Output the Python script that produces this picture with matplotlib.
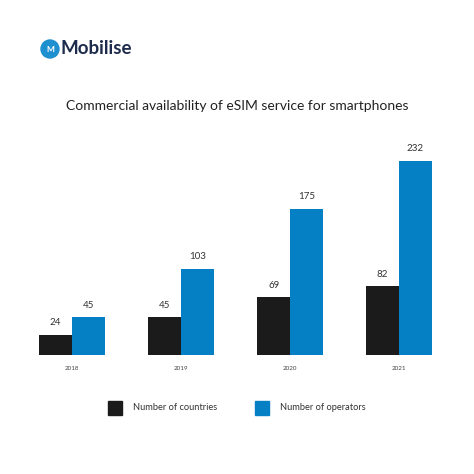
import numpy as np
import matplotlib.pyplot as plt
from matplotlib.patches import Circle, Rectangle

plt.rcParams['font.family'] = ['Lato', 'DejaVu Sans']

years = ['2018', '2019', '2020', '2021']
countries = [24, 45, 69, 82]
operators = [45, 103, 175, 232]

C_BLACK = '#1b1b1b'
C_BLUE = '#0580c4'

W, H = 474, 474
fig = plt.figure(figsize=(W / 100, H / 100), dpi=100)


def fx(px):
    return px / W


def fy(py):
    return 1 - py / H


# axes placed in pixel units
ax_l, ax_r, ax_top, ax_bot = 20, 452, 150, 355
ax = fig.add_axes([fx(ax_l), fy(ax_bot), fx(ax_r - ax_l), (ax_bot - ax_top) / H])
x = np.arange(len(years))
w = 0.30
ax.bar(x - w / 2, countries, w, color=C_BLACK)
ax.bar(x + w / 2, operators, w, color=C_BLUE)
ax.set_xlim((ax_l - 72) / 109, (ax_r - 72) / 109)
ax.set_ylim(0, (ax_bot - ax_top) / (194 / 232))
ax.axis('off')

for i in range(len(years)):
    ax.text(x[i] - w / 2, countries[i] + 9, str(countries[i]), ha='center', va='bottom',
            fontsize=7, color='#333333')
    ax.text(x[i] + w / 2, operators[i] + 9, str(operators[i]), ha='center', va='bottom',
            fontsize=7, color='#333333')
    ax.text(x[i], -16, years[i], ha='center', va='center', fontsize=4.5, color='#444444')

# title
fig.text(0.5, fy(106), 'Commercial availability of eSIM service for smartphones',
         ha='center', va='center', fontsize=10, color='#222222')

# legend
fig.patches.append(Rectangle((fx(108), fy(415)), fx(14), 14 / H, color=C_BLACK,
                             transform=fig.transFigure, figure=fig))
fig.text(fx(133), fy(408), 'Number of countries', ha='left', va='center',
         fontsize=6.7, color='#333333')
fig.patches.append(Rectangle((fx(255), fy(415)), fx(14), 14 / H, color=C_BLUE,
                             transform=fig.transFigure, figure=fig))
fig.text(fx(280), fy(408), 'Number of operators', ha='left', va='center',
         fontsize=6.7, color='#333333')

# logo
fig.patches.append(Circle((fx(50), fy(49)), 9 / W, color='#1e8fcf',
                          transform=fig.transFigure, figure=fig))
fig.text(fx(50), fy(49), 'M', ha='center', va='center', fontsize=6,
         fontweight='bold', color='white')
fig.text(fx(60), fy(49), 'Mobilise', ha='left', va='center', fontsize=13.5,
         fontweight='bold', color='#1d2b4c')

fig.savefig('out.png', dpi=100, facecolor='white')
